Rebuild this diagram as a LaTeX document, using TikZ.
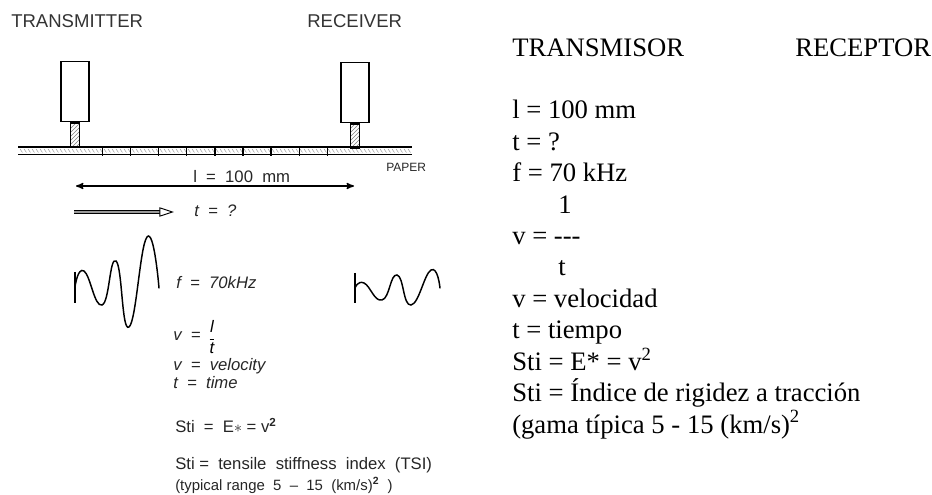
\documentclass[tikz,border=0pt]{standalone}
\usepackage{fontspec}
\setmainfont{Liberation Serif}
\setsansfont{Liberation Sans}
\usetikzlibrary{arrows,arrows.meta}
\usetikzlibrary{patterns}
\usetikzlibrary{positioning}
\tikzset{
 probe/.style={draw, line width=.9pt, minimum width=21pt, minimum height=45.5pt, inner sep=0},
 stem/.style={draw, line width=.9pt, pattern=north east lines, pattern color=black!50, minimum width=7pt, minimum height=18.5pt, inner sep=0},
 sanslabel/.style={anchor=base west, inner sep=0, font=\sffamily\fontsize{12.5}{14}\selectfont, text=black!85},
 capslabel/.style={anchor=base west, inner sep=0, font=\sffamily\fontsize{13.9}{16}\selectfont, text=black!80},
 seriflabel/.style={anchor=base west, inner sep=0, font=\rmfamily\fontsize{20}{23}\selectfont},
 wave/.style={line width=1.1pt, line cap=round}
}
\begin{document}
\begin{tikzpicture}[x=.75pt, y=-.75pt]
\useasboundingbox (0,0) rectangle (932,495);
\node[capslabel] (transmitter) at (11,28) {TRANSMITTER};
\node[capslabel] (receiver) at (307,28) {RECEIVER};
\node[probe] (boxt) at (75,91.5) {};
\node[probe] (boxr) at (355,92.5) {};
\node[stem, below=0pt of boxt] (stemt) {};
\node[stem, below=0pt of boxr] (stemr) {};
\draw[line width=.9pt] (18,147) -- (412,147);
\draw[line width=.9pt] (18,154.5) -- (412,154.5);
\foreach \x in {20,24,...,410} {
 \draw[black!60, very thin] (\x,149) --++(2.5,3.5);
}
\foreach \i [evaluate=\i as \x using 102.5+28.1*\i] in {0,...,8} {
 \draw[line width=1pt] (\x,147) --++(0,9);
}
\node[sanslabel, font=\sffamily\fontsize{9}{11}\selectfont] (paper) at (386,172) {PAPER};
\node[sanslabel] (length) at (193,183) {l~~=~~100~~mm};
\coordinate (ldimleft) at (76,186);
\coordinate (ldimright) at (354,186);
\draw[line width=1pt,<->,>=stealth'] (ldimleft) -- (ldimright);
\coordinate (pulsestart) at (74,212);
\coordinate (pulseend) at (174,212);
\draw[line width=.7pt, double=black!40, double distance=2.2pt, -{Triangle[open, fill=white, length=11pt, width=7pt, line width=.7pt]}] (pulsestart) -- (pulseend);
\node[sanslabel] (timeq) at (194,217) {\textit{t~~=~~?}};
\draw[line width=1pt] (75,272) -- (75,303);
\draw[wave] plot[smooth, tension=.85] coordinates {(75,287) (84,271) (102,305) (116,261) (129,327) (147,237) (159,288)};
\node[sanslabel] (freq) at (176,289) {\textit{f~~=~~70kHz}};
\draw[line width=1pt] (355,273) -- (355,303);
\draw[wave] plot[smooth, tension=.85] coordinates {(355,288) (364,283) (382,300) (397,275) (411,305) (431,270) (440,288)};
\node[sanslabel] (vel) at (173,341) {\textit{v~~=}};
\node[anchor=center, inner sep=0, font=\sffamily\fontsize{12.5}{14}\selectfont] (velfrac) at (212,337) {$\displaystyle\frac{\textit{l}}{\textit{t}}$};
\node[sanslabel] (veldef) at (173,370) {\textit{v~~=~~velocity}};
\node[sanslabel] (timedef) at (173,388) {\textit{t~~=~~time}};
\node[sanslabel] (stieq) at (175,432) {Sti~~=~~E$*$~=~v\textsuperscript{\textbf{2}}};
\node[sanslabel] (stidef) at (175,469) {Sti~=~~tensile~~stiffness~~index~~(TSI)};
\node[sanslabel, font=\sffamily\fontsize{11.2}{13}\selectfont] (range) at (175,490) {(typical range~~5~~--~~15~~(km/s)\textsuperscript{\textbf{2}}~~)};
\node[seriflabel] (transmisor) at (512,57) {TRANSMISOR};
\node[seriflabel] (receptor) at (795,57) {RECEPTOR};
\foreach \i/\xp/\txt in {
 0/512/l = 100 mm,
 1/512/t = ?,
 2/512/f = 70 kHz,
 3/558/1,
 4/512/v = -{}-{}-,
 5/558/t,
 6/512/v = velocidad,
 7/512/t = tiempo,
 8/512/Sti = E* = v\textsuperscript{2},
 9/512/Sti = Índice de rigidez a tracción,
 10/512/{(gama típica 5 - 15 (km/s)\textsuperscript{2}}} {
 \node[seriflabel] (line\i) at (\xp,119+31.4*\i) {\txt};
}
\end{tikzpicture}
\end{document}
